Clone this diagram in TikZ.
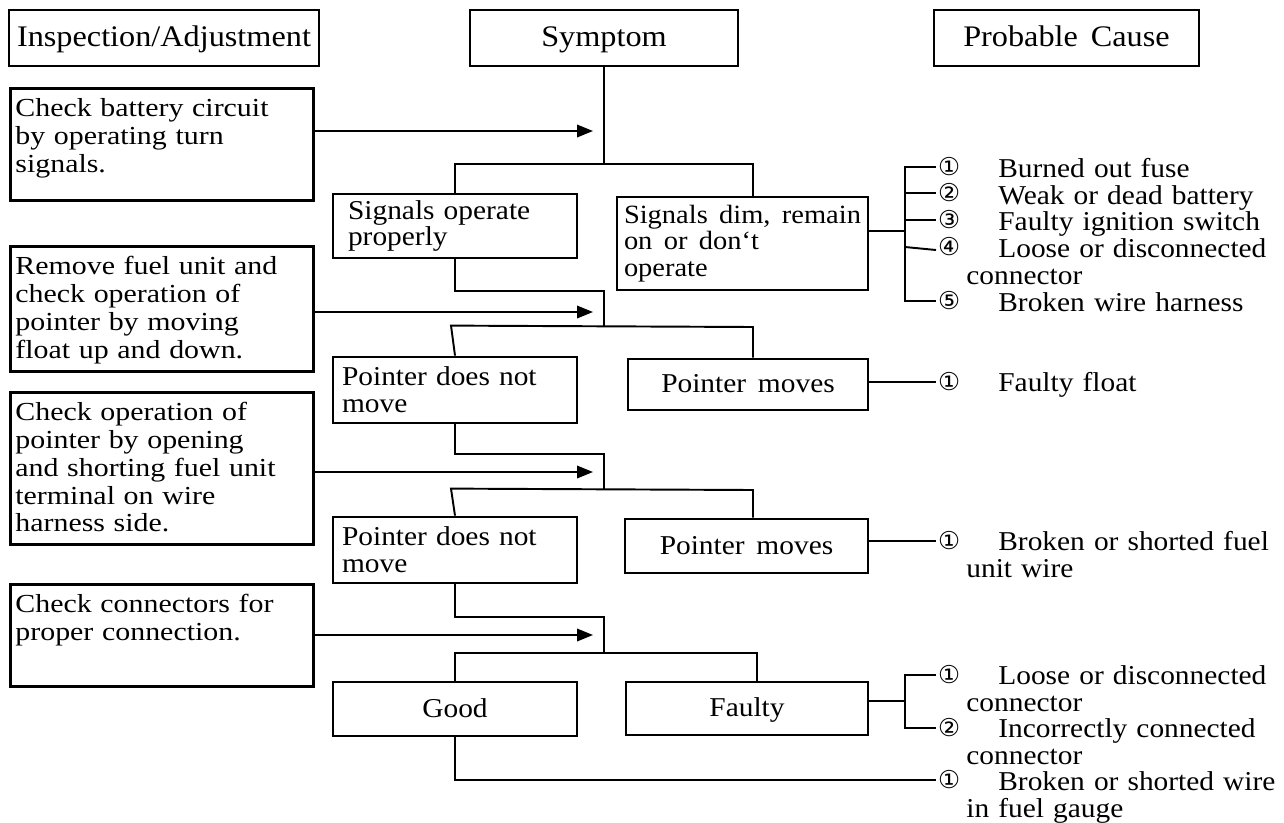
\documentclass[tikz,border=0pt]{standalone}
\usepackage{fontspec}
\setmainfont[FakeStretch=1.08,WordSpace=1.6]{Liberation Serif}
\newfontfamily\leftfont[FakeStretch=1.15,WordSpace=2.0]{Liberation Serif}
\newfontfamily\circfont{DejaVu Sans}
\usetikzlibrary{arrows.meta}

\begin{document}
\begin{tikzpicture}[x=0.02cm, y=-0.02cm,
    head/.style={draw, line width=1.6pt, minimum height=1.12cm, inner sep=0pt,
                 text height=0.45cm, text depth=0.13cm,
                 font=\fontsize{17}{18}\selectfont},
    checkbox/.style={draw, line width=1.6pt, anchor=north west, text width=5.86cm,
                 align=left, inner xsep=0.1cm, inner ysep=0pt, text height=0.57cm,
                 font=\leftfont\fontsize{14.8}{15.8}\selectfont},
    sbox/.style={draw, line width=1.6pt, align=left, inner ysep=2pt,
                 font=\fontsize{15.5}{15.2}\selectfont},
    onebox/.style={sbox, align=center, text height=0.45cm, text depth=0.13cm},
    num/.style={anchor=west, inner xsep=1pt, inner ysep=0pt,
                font=\circfont\fontsize{14}{14}\selectfont},
    cause/.style={anchor=base west, text width=6.6cm, align=left, inner sep=0pt,
                  font=\fontsize{15.5}{15.4}\selectfont,
                  execute at begin node=\hspace*{0.64cm}},
    wire/.style={line width=1.1pt},
    arr/.style={-{Triangle[length=0.32cm, width=0.25cm]}, line width=1.1pt}
]
\useasboundingbox (0,0) rectangle (1284,822);

% column heads
\node[head, minimum width=6.2cm]  (insp)  at (164,38)    {Inspection/Adjustment};
\node[head, minimum width=5.36cm] (sym)   at (604,38)    {Symptom};
\node[head, minimum width=5.3cm]  (cause) at (1066.5,38) {Probable Cause};

% inspection steps
\node[checkbox, text depth=1.67cm] (chk1) at (9,87)  {Check battery circuit\\by operating turn\\signals.};
\node[checkbox, text depth=1.93cm] (chk2) at (9,245) {Remove fuel unit and\\check operation of\\pointer by moving\\float up and down.};
\node[checkbox, text depth=2.47cm] (chk3) at (9,391) {Check operation of\\pointer by opening\\and shorting fuel unit\\terminal on wire\\harness side.};
\node[checkbox, text depth=1.47cm] (chk4) at (9,583) {Check connectors for\\proper connection.};

% symptoms
\node[sbox, text width=4.28cm, inner xsep=0.3cm, minimum height=1.28cm] (sop) at (455,226) {Signals operate\\properly};
\node[sbox, inner xsep=0.1cm, minimum width=5.02cm, minimum height=1.86cm,
      font=\fontsize{15}{15.2}\selectfont] (sdim) at (742.5,243.5) {Signals dim, remain\\on or don‘t\\operate};
\node[sbox, text width=4.52cm, inner xsep=0.18cm, minimum height=1.32cm] (pdn1) at (455,390) {Pointer does not\\move};
\node[onebox, minimum width=4.8cm, minimum height=1.02cm] (pm1) at (748,384.5) {Pointer moves};
\node[sbox, text width=4.52cm, inner xsep=0.18cm, minimum height=1.32cm] (pdn2) at (455,550) {Pointer does not\\move};
\node[onebox, minimum width=4.86cm, minimum height=1.08cm] (pm2) at (746.5,546) {Pointer moves};
\node[onebox, minimum width=4.88cm, minimum height=1.08cm] (good) at (455,709) {Good};
\node[onebox, minimum width=4.84cm, minimum height=1.06cm] (faulty) at (747,708.5) {Faulty};

% probable causes
\node[num] (n11) at (936,167) {①};
\node[cause] (c11) at (966,177) {Burned out fuse};
\node[num] (n12) at (936,193) {②};
\node[cause] (c12) at (966,204) {Weak or dead battery};
\node[num] (n13) at (936,220) {③};
\node[cause] (c13) at (966,230) {Faulty ignition switch};
\node[num] (n14) at (936,247) {④};
\node[cause] (c14) at (966,257) {Loose or disconnected\\connector};
\node[num] (n15) at (936,301) {⑤};
\node[cause] (c15) at (966,311) {Broken wire harness};

\node[num] (n21) at (936,382) {①};
\node[cause] (c21) at (966,391) {Faulty float};

\node[num] (n31) at (936,541) {①};
\node[cause] (c31) at (966,550) {Broken or shorted fuel\\unit wire};

\node[num] (n41) at (936,675) {①};
\node[cause] (c41) at (966,684) {Loose or disconnected\\connector};
\node[num] (n42) at (936,728) {②};
\node[cause] (c42) at (966,737) {Incorrectly connected\\connector};

\node[num] (n51) at (936,780) {①};
\node[cause] (c51) at (966,790) {Broken or shorted wire\\in fuel gauge};

% step 1
\coordinate (f1) at (753,164);
\draw[wire] (sym.south) -- (sym.south |- f1);
\draw[wire] (sop.north) |- (f1) -- (f1 |- sdim.north);
\coordinate (a1) at (593,131);
\draw[arr] (chk1.east |- a1) -- (a1);

% step 2
\coordinate (f2) at (604,327);
\coordinate (r2) at (753,327);
\draw[wire] (sop.south) -- ++(0,32) -| (f2);
\draw[wire] (pdn1.north) -- ++(-4,-30) -- (r2) -- (r2 |- pm1.north);
\coordinate (a2) at (593,312);
\draw[arr] (chk2.east |- a2) -- (a2);

% step 3
\coordinate (f3) at (604,490);
\coordinate (r3) at (753,490);
\draw[wire] (pdn1.south) -- ++(0,30) -| (f3);
\draw[wire] (pdn2.north) -- ++(-4,-27) -- (r3) -- (r3 |- pm2.north);
\coordinate (a3) at (593,472);
\draw[arr] (chk3.east |- a3) -- (a3);

% step 4
\coordinate (f4) at (604,653);
\coordinate (r4) at (757,653);
\draw[wire] (pdn2.south) -- ++(0,33) -| (f4);
\draw[wire] (good.north) |- (r4) -- (r4 |- faulty.north);
\coordinate (a4) at (593,635);
\draw[arr] (chk4.east |- a4) -- (a4);

% to the causes
\coordinate (k1) at (905,231);
\draw[wire] (sdim.east |- k1) -- (k1);
\draw[wire] (n11.west) -| (k1) |- (n15.west);
\draw[wire] (k1 |- n12.west) -- (n12.west);
\draw[wire] (k1 |- n13.west) -- (n13.west);
\draw[wire] (k1 |- n14.west) -- ([yshift=-0.06cm]n14.west);
\draw[wire] (pm1.east |- n21.west) -- (n21.west);
\draw[wire] (pm2.east |- n31.west) -- (n31.west);
\coordinate (k4) at (905,701);
\draw[wire] (faulty.east |- k4) -- (k4);
\draw[wire] (n41.west) -| (k4) |- (n42.west);
\draw[wire] (good.south) |- (n51.west);
\end{tikzpicture}
\end{document}
